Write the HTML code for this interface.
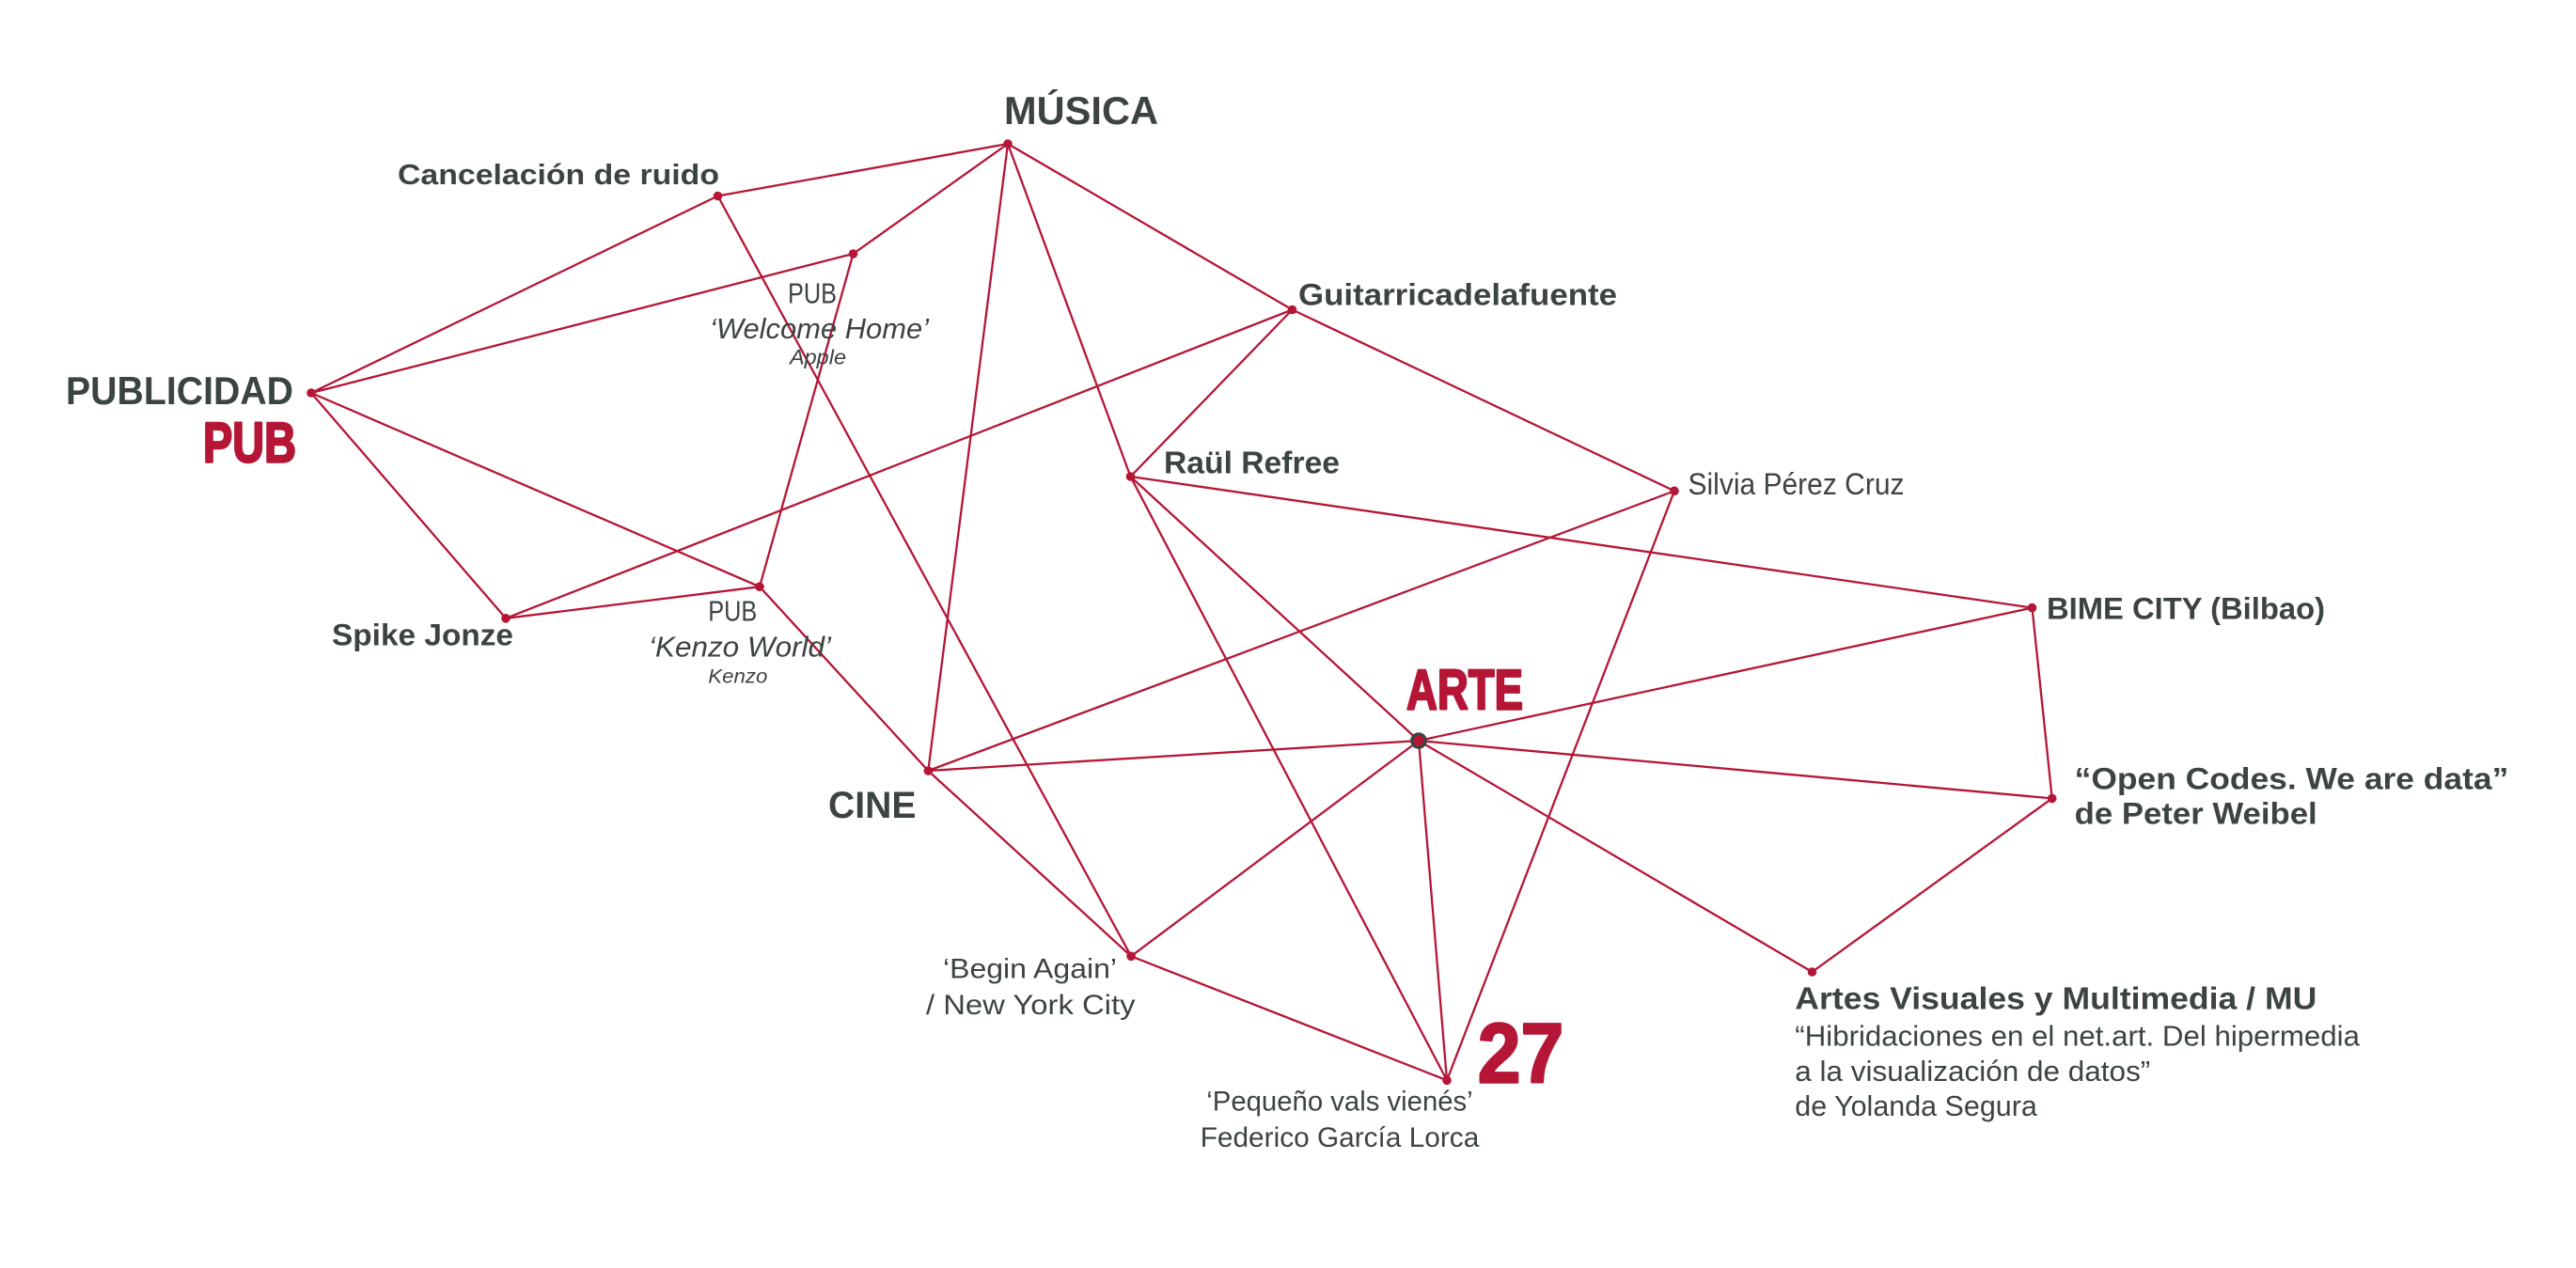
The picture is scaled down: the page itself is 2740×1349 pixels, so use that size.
<!DOCTYPE html>
<html>
<head>
<meta charset="utf-8">
<style>
  html,body{margin:0;padding:0;background:#ffffff;}
  body{width:2740px;height:1349px;overflow:hidden;}
  svg{display:block;}
  text{font-family:"Liberation Sans","DejaVu Sans",sans-serif;}
  .b{font-weight:bold;fill:#3c4441;}
  .l{font-weight:normal;fill:#3c4441;}
  .i{font-style:italic;}
  .r{font-weight:bold;fill:#b51636;stroke:#b51636;stroke-width:2.4;stroke-linejoin:round;}
</style>
</head>
<body>
<svg width="2740" height="1349" viewBox="0 0 2740 1349" xmlns="http://www.w3.org/2000/svg">
  <rect x="0" y="0" width="2740" height="1349" fill="#ffffff"/>
  <g stroke="#b51636" stroke-width="2.3" stroke-linecap="round" fill="none">
    <line x1="331" y1="418" x2="763.5" y2="208.5"/>
    <line x1="331" y1="418" x2="907.5" y2="270"/>
    <line x1="331" y1="418" x2="538" y2="657.8"/>
    <line x1="331" y1="418" x2="808" y2="624.2"/>
    <line x1="538" y1="657.8" x2="808" y2="624.2"/>
    <line x1="538" y1="657.8" x2="1374.5" y2="329.5"/>
    <line x1="907.5" y1="270" x2="1072" y2="153"/>
    <line x1="907.5" y1="270" x2="808" y2="624.2"/>
    <line x1="763.5" y1="208.5" x2="1072" y2="153"/>
    <line x1="763.5" y1="208.5" x2="1203.1" y2="1017.3"/>
    <line x1="1072" y1="153" x2="987.3" y2="820"/>
    <line x1="1072" y1="153" x2="1202.5" y2="507"/>
    <line x1="1072" y1="153" x2="1374.5" y2="329.5"/>
    <line x1="1374.5" y1="329.5" x2="1781" y2="522.3"/>
    <line x1="1374.5" y1="329.5" x2="1202.5" y2="507"/>
    <line x1="1202.5" y1="507" x2="2161.5" y2="646.6"/>
    <line x1="1202.5" y1="507" x2="1509" y2="788"/>
    <line x1="1202.5" y1="507" x2="1539" y2="1149.3"/>
    <line x1="1781" y1="522.3" x2="987.3" y2="820"/>
    <line x1="1781" y1="522.3" x2="1539" y2="1149.3"/>
    <line x1="987.3" y1="820" x2="1509" y2="788"/>
    <line x1="987.3" y1="820" x2="1203.1" y2="1017.3"/>
    <line x1="808" y1="624.2" x2="987.3" y2="820"/>
    <line x1="1509" y1="788" x2="2161.5" y2="646.6"/>
    <line x1="1509" y1="788" x2="2182.7" y2="849.4"/>
    <line x1="1509" y1="788" x2="1927.5" y2="1034"/>
    <line x1="1509" y1="788" x2="1203.1" y2="1017.3"/>
    <line x1="1509" y1="788" x2="1539" y2="1149.3"/>
    <line x1="2161.5" y1="646.6" x2="2182.7" y2="849.4"/>
    <line x1="2182.7" y1="849.4" x2="1927.5" y2="1034"/>
    <line x1="1203.1" y1="1017.3" x2="1539" y2="1149.3"/>
  </g>
  <g fill="#b51636">
    <circle cx="331" cy="418" r="4.8"/>
    <circle cx="763.5" cy="208.5" r="4.8"/>
    <circle cx="907.5" cy="270" r="4.8"/>
    <circle cx="1072" cy="153" r="4.8"/>
    <circle cx="538" cy="657.8" r="4.8"/>
    <circle cx="808" cy="624.2" r="4.8"/>
    <circle cx="1374.5" cy="329.5" r="4.8"/>
    <circle cx="1202.5" cy="507" r="4.8"/>
    <circle cx="1781" cy="522.3" r="4.8"/>
    <circle cx="2161.5" cy="646.6" r="4.8"/>
    <circle cx="987.3" cy="820" r="4.8"/>
    <circle cx="1203.1" cy="1017.3" r="4.8"/>
    <circle cx="2182.7" cy="849.4" r="4.8"/>
    <circle cx="1927.5" cy="1034" r="4.8"/>
    <circle cx="1539" cy="1149.3" r="4.8"/>
  </g>
  <circle cx="1509" cy="788" r="7.2" fill="#b51636" stroke="#3c4441" stroke-width="3.2"/>

  <text class="b" x="1068" y="132" font-size="42" textLength="164" lengthAdjust="spacingAndGlyphs">MÚSICA</text>
  <text class="b" x="423" y="196" font-size="31" textLength="342" lengthAdjust="spacingAndGlyphs">Cancelación de ruido</text>
  <text class="b" x="70" y="430" font-size="42" textLength="242" lengthAdjust="spacingAndGlyphs">PUBLICIDAD</text>
  <text class="r" x="216" y="491.7" font-size="60" textLength="99" lengthAdjust="spacingAndGlyphs">PUB</text>

  <text class="l" x="838" y="322.3" font-size="31" textLength="52" lengthAdjust="spacingAndGlyphs">PUB</text>
  <text class="l i" x="755" y="360" font-size="31" textLength="233" lengthAdjust="spacingAndGlyphs">‘Welcome Home’</text>
  <text class="l i" x="840" y="387.7" font-size="22" textLength="60" lengthAdjust="spacingAndGlyphs">Apple</text>

  <text class="b" x="1238" y="503.6" font-size="33" textLength="187" lengthAdjust="spacingAndGlyphs">Raül Refree</text>
  <text class="b" x="1381" y="324.6" font-size="32" textLength="339" lengthAdjust="spacingAndGlyphs">Guitarricadelafuente</text>
  <text class="l" x="1795.5" y="526" font-size="32" textLength="230" lengthAdjust="spacingAndGlyphs">Silvia Pérez Cruz</text>
  <text class="b" x="2177" y="658.3" font-size="32.5" textLength="296" lengthAdjust="spacingAndGlyphs">BIME CITY (Bilbao)</text>

  <text class="b" x="353" y="686.7" font-size="32.5" textLength="193" lengthAdjust="spacingAndGlyphs">Spike Jonze</text>
  <text class="l" x="753.3" y="660.7" font-size="31" textLength="52" lengthAdjust="spacingAndGlyphs">PUB</text>
  <text class="l i" x="690" y="698.3" font-size="31" textLength="194" lengthAdjust="spacingAndGlyphs">‘Kenzo World’</text>
  <text class="l i" x="753.3" y="726.7" font-size="21" textLength="63" lengthAdjust="spacingAndGlyphs">Kenzo</text>

  <text class="b" x="881" y="869.8" font-size="40" textLength="93.5" lengthAdjust="spacingAndGlyphs">CINE</text>
  <text class="r" x="1496" y="754.3" font-size="60" textLength="124" lengthAdjust="spacingAndGlyphs">ARTE</text>

  <text class="b" x="2206.7" y="839.3" font-size="32" textLength="461.6" lengthAdjust="spacingAndGlyphs">“Open Codes. We are data”</text>
  <text class="b" x="2206.7" y="876.7" font-size="32" textLength="258" lengthAdjust="spacingAndGlyphs">de Peter Weibel</text>

  <text class="l" x="1003" y="1040.5" font-size="30" textLength="185" lengthAdjust="spacingAndGlyphs">‘Begin Again’</text>
  <text class="l" x="985" y="1079" font-size="30" textLength="222.5" lengthAdjust="spacingAndGlyphs">/ New York City</text>

  <text class="r" x="1571.7" y="1151.7" font-size="90" textLength="91.6" lengthAdjust="spacingAndGlyphs">27</text>
  <text class="l" x="1283.3" y="1181.7" font-size="30" textLength="283.4" lengthAdjust="spacingAndGlyphs">‘Pequeño vals vienés’</text>
  <text class="l" x="1276.7" y="1220" font-size="30" textLength="296.6" lengthAdjust="spacingAndGlyphs">Federico García Lorca</text>

  <text class="b" x="1909.3" y="1073.3" font-size="33" textLength="555" lengthAdjust="spacingAndGlyphs">Artes Visuales y Multimedia / MU</text>
  <text class="l" x="1909.3" y="1112.5" font-size="31" textLength="600.7" lengthAdjust="spacingAndGlyphs">“Hibridaciones en el net.art. Del hipermedia</text>
  <text class="l" x="1909.3" y="1150" font-size="31" textLength="378" lengthAdjust="spacingAndGlyphs">a la visualización de datos”</text>
  <text class="l" x="1909.3" y="1187" font-size="31" textLength="257.5" lengthAdjust="spacingAndGlyphs">de Yolanda Segura</text>
</svg>
</body>
</html>
